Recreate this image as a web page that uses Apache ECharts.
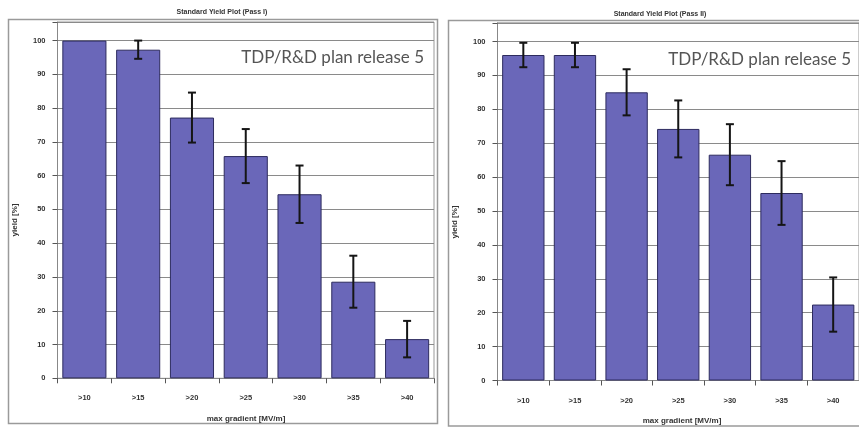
<!DOCTYPE html>
<html><head><meta charset="utf-8">
<script src="https://cdn.jsdelivr.net/npm/echarts@6/dist/echarts.min.js"></script>
<style>html,body{margin:0;padding:0;background:#fff}#c{width:859px;height:428px}</style>
</head><body><div id="c"></div>
<script>
const categories = ['>10', '>15', '>20', '>25', '>30', '>35', '>40'];
const titleLeft = 'Standard Yield Plot (Pass I)';
const titleRight = 'Standard Yield Plot (Pass II)';
const yieldPass1 = [100, 97.3, 77.2, 65.8, 54.5, 28.6, 11.6];
const errPass1   = [0, 2.7, 7.4, 8.0, 8.5, 7.7, 5.4];
const yieldPass2 = [96, 96, 85, 74.2, 66.6, 55.3, 22.4];
const errPass2   = [3.6, 3.6, 6.8, 8.4, 9.0, 9.4, 8.0];
const yTicks = [0, 10, 20, 30, 40, 50, 60, 70, 80, 90, 100];
const annotation = 'TDP/R&D plan release 5';
const yName = 'yield [%]';
const xName = 'max gradient [MV/m]';

const chart = echarts.init(document.getElementById('c'), null, {renderer: 'canvas'});
const FONT = 'Liberation Sans';
const barColor = '#6a67b9';

function errData(vals, errs) {
  return vals.map((v, i) => [i, Math.max(0, v - errs[i]), Math.min(100, v + errs[i])]).filter((d, i) => errs[i] > 0);
}
function renderErr(params, api) {
  const x = api.value(0);
  const lo = api.coord([x, api.value(1)]);
  const hi = api.coord([x, api.value(2)]);
  const cw = 4;
  const st = {stroke: '#151515', lineWidth: 2};
  return {type: 'group', children: [
    {type: 'line', shape: {x1: lo[0], y1: lo[1], x2: hi[0], y2: hi[1]}, style: st},
    {type: 'line', shape: {x1: lo[0]-cw, y1: lo[1], x2: lo[0]+cw, y2: lo[1]}, style: st},
    {type: 'line', shape: {x1: hi[0]-cw, y1: hi[1], x2: hi[0]+cw, y2: hi[1]}, style: st}
  ]};
}
const yMax = 105.5;
function yAxisDef(idx) {
  return {
    type: 'value', gridIndex: idx, min: 0, max: yMax, interval: 10,
    axisLine: {show: true, lineStyle: {color: '#888', width: 1}},
    axisTick: {show: true, length: 5, lineStyle: {color: '#555'}},
    axisLabel: {margin: 12, fontSize: 7.5, fontWeight: 'bold', color: '#333', fontFamily: FONT,
      formatter: v => (yTicks.indexOf(v) >= 0 ? String(v) : '')},
    splitLine: {show: true, lineStyle: {color: '#8a8a8a', width: 1}}
  };
}
function xAxisDef(idx) {
  return {
    type: 'category', gridIndex: idx, data: categories,
    axisLine: {show: true, lineStyle: {color: '#888', width: 1}},
    axisTick: {show: true, length: 5, lineStyle: {color: '#555'}},
    axisLabel: {margin: 16, fontSize: 7.5, fontWeight: 'bold', color: '#333', fontFamily: FONT}
  };
}
const txtBold = (x, y, text, size, rot) => ({
  type: 'text', x: x, y: y, rotation: rot || 0,
  style: {text: text, font: 'bold ' + size + 'px "' + FONT + '"', fill: '#333', align: 'center', verticalAlign: 'middle'}
});

chart.setOption({
  animation: false,
  backgroundColor: '#fff',
  grid: [
    {left: 57.5, top: 22, width: 376.5, height: 356.3, show: true, borderColor: '#999', borderWidth: 1, backgroundColor: '#fff'},
    {left: 497.5, top: 22.8, width: 367.5, height: 357.7, show: true, borderColor: '#999', borderWidth: 1, backgroundColor: '#fff'}
  ],
  xAxis: [xAxisDef(0), xAxisDef(1)],
  yAxis: [yAxisDef(0), yAxisDef(1)],
  series: [
    {type: 'bar', xAxisIndex: 0, yAxisIndex: 0, data: yieldPass1, barCategoryGap: '18%',
      itemStyle: {color: barColor, borderColor: '#2d2b5e', borderWidth: 1}},
    {type: 'bar', xAxisIndex: 1, yAxisIndex: 1, data: yieldPass2, barCategoryGap: '18%',
      itemStyle: {color: barColor, borderColor: '#2d2b5e', borderWidth: 1}},
    {type: 'custom', xAxisIndex: 0, yAxisIndex: 0, data: errData(yieldPass1, errPass1), renderItem: renderErr, z: 5, encode: {x: 0, y: [1, 2]}},
    {type: 'custom', xAxisIndex: 1, yAxisIndex: 1, data: errData(yieldPass2, errPass2), renderItem: renderErr, z: 5, encode: {x: 0, y: [1, 2]}}
  ],
  graphic: [
    {type: 'rect', shape: {x: 8.5, y: 19.5, width: 429, height: 404}, style: {fill: 'none', stroke: '#9a9a9a', lineWidth: 1.5}, z: -1},
    {type: 'rect', shape: {x: 448.5, y: 20.5, width: 430, height: 405.5}, style: {fill: 'none', stroke: '#9a9a9a', lineWidth: 1.5}, z: -1},
    txtBold(222, 12.5, titleLeft, 7),
    txtBold(660, 14, titleRight, 7),
    txtBold(15, 220, yName, 8, Math.PI / 2),
    txtBold(455, 222, yName, 8, Math.PI / 2),
    txtBold(246, 419, xName, 8),
    txtBold(682, 421, xName, 8),
    {type: 'text', x: 424, y: 58, z: 10, style: {text: annotation, font: '17px Lato', fill: '#555', align: 'right', verticalAlign: 'middle'}},
    {type: 'text', x: 851, y: 60, z: 10, style: {text: annotation, font: '17px Lato', fill: '#555', align: 'right', verticalAlign: 'middle'}}
  ]
});
</script></body></html>
